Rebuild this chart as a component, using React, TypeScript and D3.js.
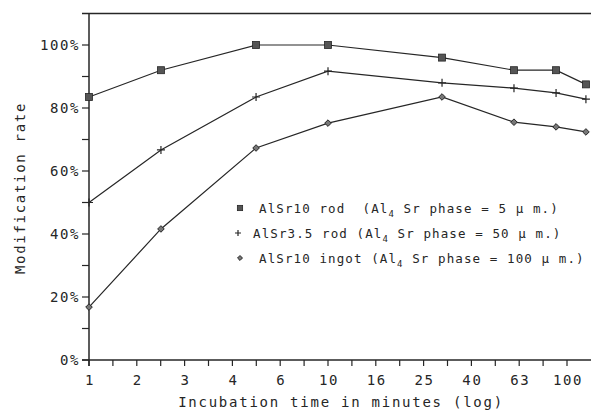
import React from 'react'
import * as d3 from 'd3'

// incubation time in minutes
const times = [1, 2, 5, 10, 30, 60, 90, 120]
const rod10 = [83.5, 92, 100, 100, 96, 92, 92, 87.5]
const rod35 = [50, 66.7, 83.5, 91.7, 88, 86.3, 84.8, 82.8]
const ingot10 = [16.8, 41.6, 67.3, 75.2, 83.5, 75.5, 74, 72.4]

const xTickLabels = ['1', '2', '3', '4', '6', '10', '16', '25', '40', '63', '100']
const yTickValues = [0, 20, 40, 60, 80, 100]

const legendItems = [
  { name: 'AlSr10 rod  (Al', size: ' Sr phase = 5 \u03bc m.)', marker: 'square' },
  { name: 'AlSr3.5 rod (Al', size: ' Sr phase = 50 \u03bc m.)', marker: 'plus' },
  { name: 'AlSr10 ingot (Al', size: ' Sr phase = 100 \u03bc m.)', marker: 'diamond' },
]

const width = 591
const height = 410
const ink = '#262626'
const font = "'DejaVu Sans Mono', monospace"

const xScale = d3.scaleLog().domain([1, 100]).range([89, 567])
const yScale = d3.scaleLinear().domain([0, 100]).range([360, 45])

const series = [
  { values: rod10, marker: 'square' },
  { values: rod35, marker: 'plus' },
  { values: ingot10, marker: 'diamond' },
]

const line = d3
  .line<number>()
  .x((d, i) => xScale(times[i]))
  .y(d => yScale(d))

function Marker({ type, x, y, s = 1 }: { type: string; x: number; y: number; s?: number }) {
  if (type === 'square') {
    const h = 3.5 * s
    return <rect x={x - h} y={y - h} width={2 * h} height={2 * h} fill="#555" stroke={ink} strokeWidth={0.8} />
  }
  if (type === 'plus') {
    const h = 4 * s
    return (
      <path d={`M${x - h},${y}H${x + h}M${x},${y - h}V${y + h}`} stroke={ink} strokeWidth={1.2} fill="none" />
    )
  }
  const h = 3.3 * s
  return (
    <path
      d={`M${x},${y - h}L${x + h},${y}L${x},${y + h}L${x - h},${y}Z`}
      fill="#777"
      stroke={ink}
      strokeWidth={1}
    />
  )
}

export default function App() {
  const majorX = xTickLabels.map((_, i) => Math.pow(10, i / 5))
  const minorX = d3.range(21).map(i => Math.pow(10, i / 10))
  const minorY = d3.range(0, 101, 10)

  return (
    <svg
      width={width}
      height={height}
      style={{ position: 'absolute', left: 0, top: 0, background: '#fff' }}
      fontFamily={font}
    >
      {/* frame: top line, left axis, bottom axis */}
      <line x1={82} x2={width} y1={yScale(110)} y2={yScale(110)} stroke={ink} strokeWidth={1.5} />
      <line x1={89} x2={89} y1={yScale(110)} y2={366} stroke={ink} strokeWidth={1.5} />
      <line x1={82} x2={width} y1={yScale(0)} y2={yScale(0)} stroke={ink} strokeWidth={1.5} />

      {minorY.map(v => (
        <line key={'yt' + v} x1={82} x2={89} y1={yScale(v)} y2={yScale(v)} stroke={ink} strokeWidth={1.2} />
      ))}
      {yTickValues.map(v => (
        <text
          key={'yl' + v}
          x={80}
          y={yScale(v) + 5}
          textAnchor="end"
          fontSize={14}
          letterSpacing={1.6}
          fill={ink}
        >
          {v}%
        </text>
      ))}

      {minorX.map((t, i) => (
        <line key={'xt' + i} x1={xScale(t)} x2={xScale(t)} y1={360} y2={366} stroke={ink} strokeWidth={1.2} />
      ))}
      {majorX.map((t, i) => (
        <text
          key={'xl' + i}
          x={xScale(t) + 1}
          y={385}
          textAnchor="middle"
          fontSize={14}
          letterSpacing={1.6}
          fill={ink}
        >
          {xTickLabels[i]}
        </text>
      ))}

      <text x={341} y={407} textAnchor="middle" fontSize={14} letterSpacing={1.75} fill={ink}>
        Incubation time in minutes (log)
      </text>
      <text
        transform="translate(25,188) rotate(-90)"
        textAnchor="middle"
        fontSize={14}
        letterSpacing={1.7}
        fill={ink}
      >
        Modification rate
      </text>

      {series.map((s, si) => (
        <g key={'s' + si}>
          <path d={line(s.values) || ''} fill="none" stroke={ink} strokeWidth={1.2} />
          {s.values.map((v, i) => (
            <Marker key={i} type={s.marker} x={xScale(times[i])} y={yScale(v)} />
          ))}
        </g>
      ))}

      {legendItems.map((item, i) => {
        const y = 208 + i * 25
        const tx = item.marker === 'plus' ? 253 : 259
        return (
          <g key={'lg' + i}>
            <Marker type={item.marker} x={item.marker === 'plus' ? 238 : 240} y={y} s={0.75} />
            <text
              x={tx}
              y={y + 4.5}
              fontSize={12.5}
              letterSpacing={1.1}
              fill={ink}
              style={{ whiteSpace: 'pre' }}
            >
              {item.name}
              <tspan fontSize={9} dy={4}>
                4
              </tspan>
              <tspan dy={-4}>{item.size}</tspan>
            </text>
          </g>
        )
      })}
    </svg>
  )
}
